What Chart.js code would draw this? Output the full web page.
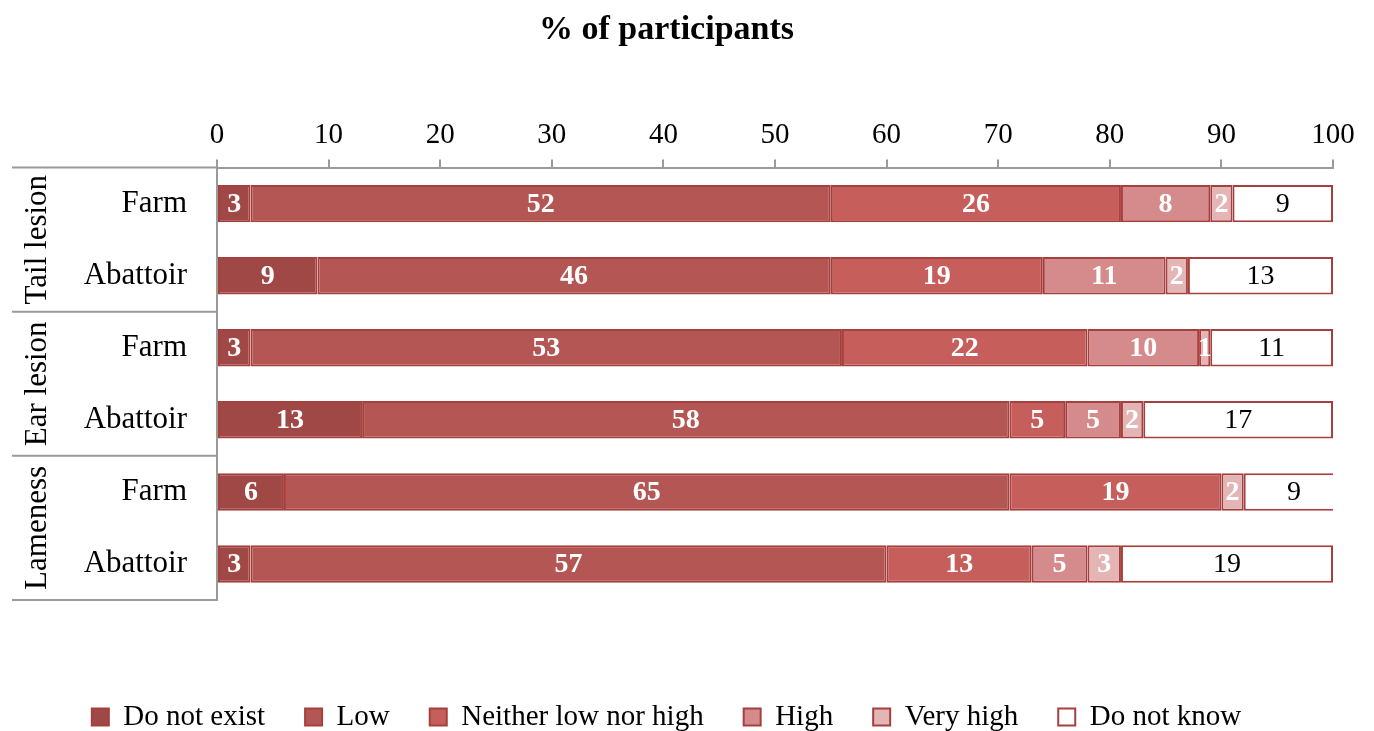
<!DOCTYPE html>
<html>
<head>
<meta charset="utf-8">
<title>% of participants</title>
<script src="https://cdn.jsdelivr.net/npm/chart.js@4.4.1/dist/chart.umd.min.js"></script>
<style>
  html, body { margin: 0; padding: 0; background: #fff; }
  #wrap { width: 1374px; height: 731px; }
</style>
</head>
<body>
<div id="wrap"><canvas id="chart"></canvas></div>
<script>
// rows (top to bottom) and the groups they belong to
const categories = ['Farm', 'Abattoir', 'Farm', 'Abattoir', 'Farm', 'Abattoir'];
const groupNames = ['Tail lesion', 'Ear lesion', 'Lameness'];
const groupSizes = [2, 2, 2];

// % of participants per answer
const doNotExist = [3, 9, 3, 13, 6, 3];
const low        = [52, 46, 53, 58, 65, 57];
const neither    = [26, 19, 22, 5, 19, 13];
const high       = [8, 11, 10, 5, 0, 5];
const veryHigh   = [2, 2, 1, 2, 2, 3];
const doNotKnow  = [9, 13, 11, 17, 9, 19];

const xTicks = [0, 10, 20, 30, 40, 50, 60, 70, 80, 90, 100];

const SERIF = "'Liberation Serif', 'Times New Roman', serif";
const EDGE = '#a6403e';
const AXIS = '#9a9a9a';

const series = [
  { label: 'Do not exist',         data: doNotExist, color: '#9f4846' },
  { label: 'Low',                  data: low,        color: '#b45653' },
  { label: 'Neither low nor high', data: neither,    color: '#c65f5b' },
  { label: 'High',                 data: high,       color: '#d58b8b' },
  { label: 'Very high',            data: veryHigh,   color: '#e3b5b5' },
  { label: 'Do not know',          data: doNotKnow,  color: '#ffffff' },
];

// numbers inside each segment
const segmentLabels = {
  id: 'segmentLabels',
  afterDatasetsDraw(chart) {
    const { ctx } = chart;
    ctx.save();
    ctx.textAlign = 'center';
    ctx.textBaseline = 'middle';
    chart.data.datasets.forEach((ds, di) => {
      const meta = chart.getDatasetMeta(di);
      const last = di === chart.data.datasets.length - 1;
      ctx.fillStyle = last ? '#000' : '#fff';
      ctx.font = (last ? '' : 'bold ') + '28px ' + SERIF;
      meta.data.forEach((bar, i) => {
        const v = ds.data[i];
        if (!v) return;
        const cx = (bar.x + bar.base) / 2;
        ctx.fillText(String(v), cx, bar.y + 1);
      });
    });
    ctx.restore();
  }
};

// group labels on the left with their separating lines
const groupFrame = {
  id: 'groupFrame',
  afterDraw(chart) {
    const { ctx, chartArea, scales: { y } } = chart;
    ctx.save();
    ctx.strokeStyle = AXIS;
    ctx.lineWidth = 2;
    let start = 0;
    const edges = [y.getPixelForValue(-0.5)];
    groupSizes.forEach(n => {
      start += n;
      edges.push(y.getPixelForValue(start - 0.5));
    });
    edges.forEach(py => {
      ctx.beginPath();
      ctx.moveTo(12, py);
      ctx.lineTo(chartArea.left, py);
      ctx.stroke();
    });
    ctx.fillStyle = '#000';
    ctx.font = '31px ' + SERIF;
    ctx.textAlign = 'center';
    ctx.textBaseline = 'middle';
    groupNames.forEach((name, g) => {
      const mid = (edges[g] + edges[g + 1]) / 2;
      ctx.save();
      ctx.translate(38, mid);
      ctx.rotate(-Math.PI / 2);
      ctx.fillText(name, 0, 0);
      ctx.restore();
    });
    ctx.restore();
  }
};

new Chart(document.getElementById('chart'), {
  type: 'bar',
  data: {
    labels: categories,
    datasets: series.map(s => ({
      label: s.label,
      data: s.data,
      backgroundColor: s.color,
      borderColor: EDGE,
      borderWidth: 2,
      borderSkipped: false,
      categoryPercentage: 0.52,
      barPercentage: 1
    }))
  },
  options: {
    indexAxis: 'y',
    responsive: true,
    maintainAspectRatio: false,
    animation: false,
    layout: { padding: { left: 0, right: 41, top: 0, bottom: 0 } },
    scales: {
      x: {
        position: 'top',
        stacked: true,
        min: 0,
        max: 100,
        afterBuildTicks(scale) {
          scale.ticks = xTicks.map(v => ({ value: v }));
        },
        grid: {
          drawOnChartArea: false,
          drawTicks: true,
          tickLength: 8,
          color: AXIS,
          lineWidth: 2
        },
        border: { display: true, color: AXIS, width: 2 },
        ticks: {
          color: '#000',
          padding: 7,
          font: { family: SERIF, size: 29 }
        }
      },
      y: {
        stacked: true,
        afterFit(scale) { scale.width = 217; },
        grid: { display: false },
        border: { display: true, color: AXIS, width: 2 },
        ticks: {
          color: '#000',
          padding: 22,
          font: { family: SERIF, size: 31 }
        }
      }
    },
    plugins: {
      title: {
        display: true,
        text: '% of participants',
        color: '#000',
        font: { family: SERIF, size: 34, weight: 'bold' },
        padding: { top: 10, bottom: 60 }
      },
      legend: {
        position: 'bottom',
        maxHeight: 131,
        title: {
          display: true,
          text: '',
          font: { size: 12 },
          padding: { top: 0, bottom: 48 }
        },
        labels: {
          color: '#000',
          boxWidth: 17,
          boxHeight: 17,
          padding: 40,
          font: { family: SERIF, size: 29 }
        }
      },
      tooltip: { enabled: false }
    }
  },
  plugins: [segmentLabels, groupFrame]
});
</script>
</body>
</html>
